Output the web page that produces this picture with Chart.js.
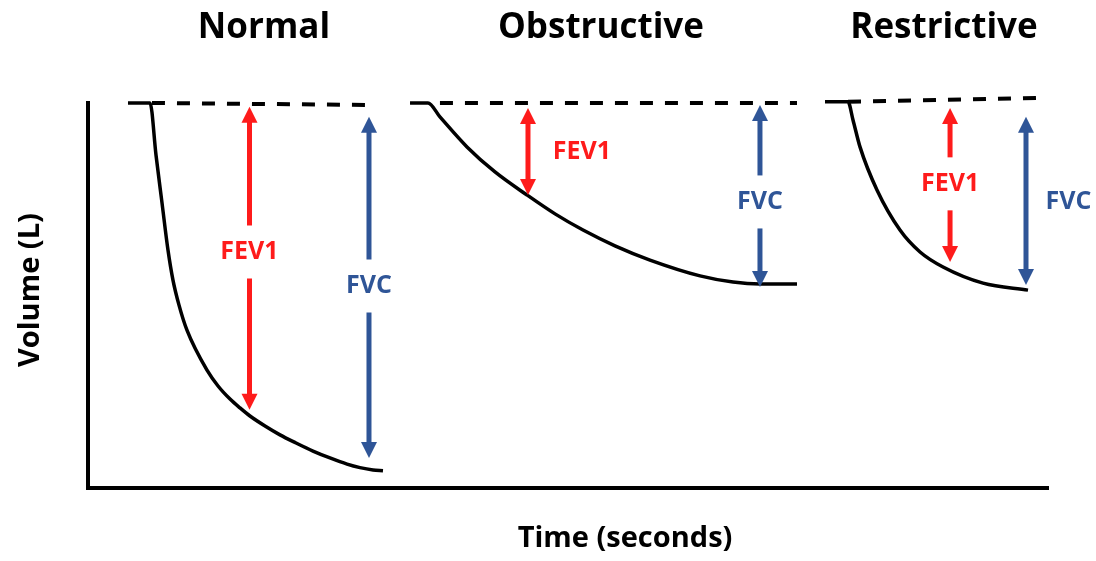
<!DOCTYPE html>
<html>
<head>
<meta charset="utf-8">
<title>Spirometry curves</title>
<script src="https://cdn.jsdelivr.net/npm/chart.js@4"></script>
<style>
  body { margin: 0; background: #fff; }
  #wrap { width: 1096px; height: 561px; }
</style>
</head>
<body>
<div id="wrap"><canvas id="spiroChart" width="1096" height="561"></canvas></div>
<script>
// panels
const panelNames = ['Normal', 'Obstructive', 'Restrictive'];
const panelCenterT = [18.35, 53.49, 89.26];

// volume-time curves (time, volume)
const normalT = [4.17, 6.47, 7.09, 7.72, 8.34, 8.86, 9.49, 10.32, 12.41, 13.56, 14.81, 15.85, 16.89, 18.46, 20.02, 21.69, 23.46, 25.23, 27.01, 28.36, 29.72, 30.76];
const normalV = [100, 100, 86.5, 74.0, 61.8, 54.0, 47.5, 41.0, 30.6, 26.5, 23.1, 20.8, 18.7, 16.1, 13.8, 11.7, 9.6, 7.8, 6.2, 5.3, 4.7, 4.5];

const obstructiveT = [33.58, 35.45, 36.70, 39.52, 42.44, 45.78, 48.70, 51.62, 54.95, 58.60, 63.82, 67.26, 70.07, 73.93];
const obstructiveV = [100, 100, 96.4, 88.6, 82.1, 76.1, 71.2, 67.0, 62.9, 59.2, 55.1, 53.5, 53.0, 53.0];

const restrictiveT = [76.85, 79.25, 79.77, 80.50, 82.27, 84.67, 86.76, 89.16, 93.33, 98.02];
const restrictiveV = [100.3, 100.3, 95.6, 88.6, 77.4, 67.0, 61.3, 57.4, 53.2, 51.4];

// dashed start-volume lines
const baselineT = [[6.67, 29.20], [36.70, 73.93], [79.25, 99.48]];
const baselineV = [[100, 99.5], [100, 100], [100.3, 101.3]];

// FEV1 / FVC arrows
const arrowNames = ['FEV1', 'FVC', 'FEV1', 'FVC', 'FEV1', 'FVC'];
const arrowT = [16.84, 29.30, 45.88, 70.07, 89.89, 97.81];
const arrowTop = [99.0, 96.4, 98.7, 99.5, 98.7, 96.4];
const arrowBottom = [20.3, 7.8, 76.1, 52.2, 58.7, 52.7];
const labelT = [16.84, 29.30, 51.51, 70.07, 89.89, 102.24];
const labelV = [61.3, 52.5, 87.3, 74.3, 79.0, 74.3];
const labelOnArrow = [true, true, false, true, true, false];

const RED = '#fe1b1b';
const BLUE = '#2f5597';

function toPoints(ts, vs) {
    return ts.map((t, i) => ({ x: t, y: vs[i] }));
}

function curve(ts, vs) {
    return {
        data: toPoints(ts, vs),
        showLine: true,
        borderColor: '#000',
        borderWidth: 3.5,
        pointRadius: 0,
        cubicInterpolationMode: 'monotone',
        clip: false
    };
}

function dashed(i) {
    return {
        data: toPoints(baselineT[i], baselineV[i]),
        showLine: true,
        borderColor: '#000',
        borderWidth: 4,
        borderDash: [13, 12],
        pointRadius: 0,
        clip: false
    };
}

function arrowHead(ctx, x, tipY, dir, color) {
    // dir = -1 points up, 1 points down
    ctx.fillStyle = color;
    ctx.beginPath();
    ctx.moveTo(x, tipY);
    ctx.lineTo(x - 8, tipY - dir * 16);
    ctx.lineTo(x + 8, tipY - dir * 16);
    ctx.closePath();
    ctx.fill();
}

const extras = {
    id: 'extras',
    afterDatasetsDraw(chart) {
        const { ctx, chartArea, scales: { x, y } } = chart;
        ctx.save();

        // arrows with their labels
        arrowNames.forEach((name, i) => {
            const color = name === 'FEV1' ? RED : BLUE;
            const px = x.getPixelForValue(arrowT[i]);
            const top = y.getPixelForValue(arrowTop[i]);
            const bot = y.getPixelForValue(arrowBottom[i]);
            const lx = x.getPixelForValue(labelT[i]);
            const ly = y.getPixelForValue(labelV[i]);
            const gap = 26.5;
            const segs = labelOnArrow[i]
                ? [[top + 14, ly - gap], [ly + gap, bot - 14]]
                : [[top + 14, bot - 14]];
            ctx.strokeStyle = color;
            ctx.lineWidth = 5;
            segs.forEach(s => {
                ctx.beginPath();
                ctx.moveTo(px, s[0]);
                ctx.lineTo(px, s[1]);
                ctx.stroke();
            });
            arrowHead(ctx, px, top, -1, color);
            arrowHead(ctx, px, bot, 1, color);

            ctx.fillStyle = color;
            ctx.font = '700 25px "Open Sans"';
            ctx.textAlign = 'center';
            ctx.textBaseline = 'middle';
            ctx.fillText(name, lx, ly);
        });

        // panel titles
        ctx.fillStyle = '#000';
        ctx.font = '700 35px "Open Sans"';
        ctx.textAlign = 'center';
        ctx.textBaseline = 'middle';
        panelNames.forEach((name, i) => {
            ctx.fillText(name, x.getPixelForValue(panelCenterT[i]), chartArea.top - 75);
        });

        // axis titles
        ctx.font = '700 29px "Open Sans"';
        ctx.fillText('Time (seconds)', x.getPixelForValue(56.0), chartArea.bottom + 51);
        ctx.translate(chartArea.left - 57, y.getPixelForValue(51.4));
        ctx.rotate(-Math.PI / 2);
        ctx.fillText('Volume (L)', 0, 0);

        ctx.restore();
    }
};

let spiroChart;
function initChart() {
    const ctx = document.getElementById('spiroChart').getContext('2d');
    spiroChart = new Chart(ctx, {
        type: 'scatter',
        data: {
            datasets: [
                curve(normalT, normalV),
                curve(obstructiveT, obstructiveV),
                curve(restrictiveT, restrictiveV),
                dashed(0),
                dashed(1),
                dashed(2)
            ]
        },
        options: {
            responsive: false,
            animation: false,
            events: [],
            layout: {
                padding: { left: 88, right: 49, top: 103, bottom: 73 }
            },
            plugins: {
                legend: { display: false },
                tooltip: { enabled: false }
            },
            scales: {
                x: {
                    type: 'linear',
                    min: 0,
                    max: 100,
                    ticks: { display: false },
                    grid: { display: false, drawTicks: false, lineWidth: 4 },
                    border: { display: true, color: '#000', width: 4 }
                },
                y: {
                    type: 'linear',
                    min: 0,
                    max: 100,
                    ticks: { display: false },
                    grid: { display: false, drawTicks: false, lineWidth: 4 },
                    border: { display: true, color: '#000', width: 4 }
                }
            }
        },
        plugins: [extras]
    });
}

document.addEventListener('DOMContentLoaded', initChart);
</script>
</body>
</html>
